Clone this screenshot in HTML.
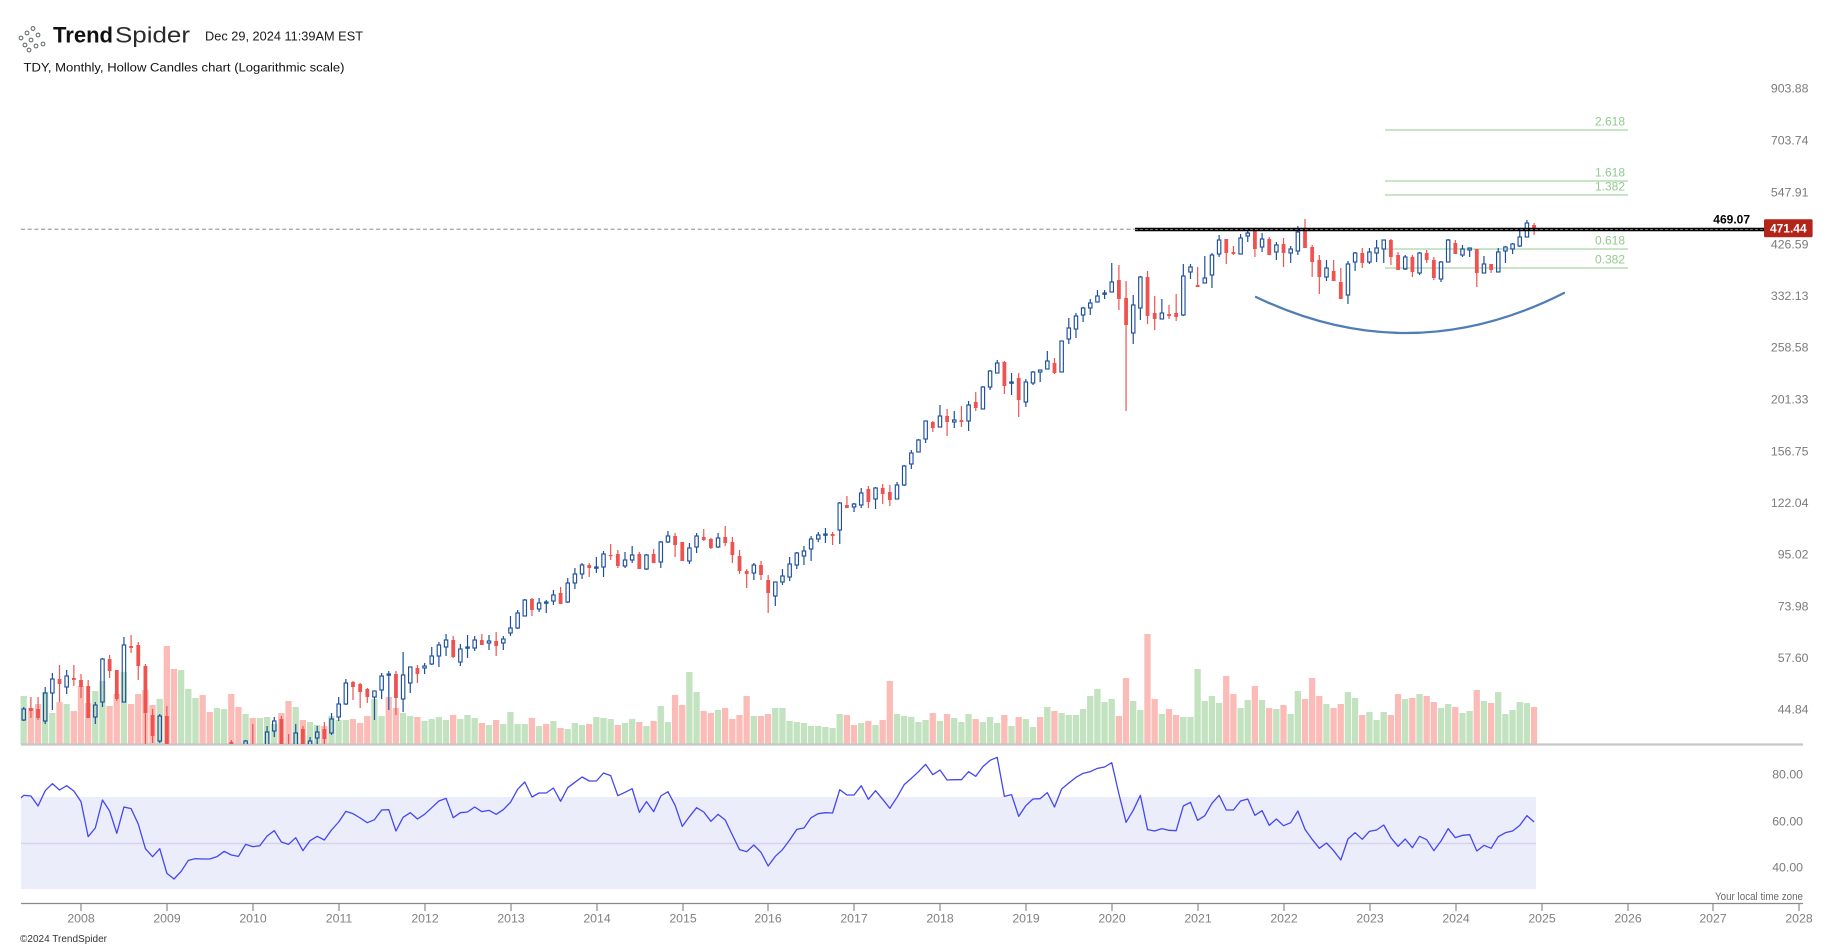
<!DOCTYPE html>
<html><head><meta charset="utf-8">
<style>
html,body{margin:0;padding:0;background:#fff;}
svg{display:block;}
text{font-family:"Liberation Sans",Arial,sans-serif;}
</style></head>
<body>
<svg id="c" width="1834" height="949" viewBox="0 0 1834 949" xmlns="http://www.w3.org/2000/svg">
<rect width="1834" height="949" fill="#fff"/>
<defs><clipPath id="pc"><rect x="0" y="0" width="1834" height="744"/></clipPath></defs>

<!-- header -->
<g fill="none" stroke="#5b6666" stroke-width="1">
<circle cx="21" cy="38" r="1.9"/><circle cx="27" cy="33" r="1.9"/><circle cx="33" cy="28.5" r="1.9"/>
<circle cx="25" cy="45" r="1.9"/><circle cx="31" cy="40" r="1.9"/><circle cx="38" cy="35" r="1.9"/>
<circle cx="36" cy="46" r="1.9"/><circle cx="43" cy="44" r="1.9"/><circle cx="29" cy="50" r="1.9"/>
</g>
<text x="53" y="42.5" font-size="22" font-weight="bold" fill="#111" textLength="60" lengthAdjust="spacingAndGlyphs">Trend</text>
<text x="115" y="42.5" font-size="22" fill="#2a2a2a" textLength="75" lengthAdjust="spacingAndGlyphs">Spider</text>
<text x="205" y="40.5" font-size="12.5" fill="#1a1a1a" textLength="158" lengthAdjust="spacingAndGlyphs">Dec 29, 2024 11:39AM EST</text>
<text x="23.5" y="71.5" font-size="12.3" fill="#111" textLength="321" lengthAdjust="spacingAndGlyphs">TDY, Monthly, Hollow Candles chart (Logarithmic scale)</text>

<!-- RSI band -->
<rect x="21" y="797" width="1515" height="92" fill="#ebedfb"/>
<line x1="21" y1="843.5" x2="1536" y2="843.5" stroke="#d6d2ef" stroke-width="1.6"/>

<g id="vol"></g>
<line x1="21" y1="744.5" x2="1803" y2="744.5" stroke="#c6c6c6" stroke-width="2.2"/>

<!-- last price dashed line -->
<line x1="21" y1="229.3" x2="1764" y2="229.3" stroke="#aaaaaa" stroke-width="1.3" stroke-dasharray="4,2.7"/>

<!-- fib lines -->
<g stroke="#a8d5a4" stroke-width="1.2">
<line x1="1385" y1="130" x2="1628" y2="130"/>
<line x1="1385" y1="181" x2="1628" y2="181"/>
<line x1="1385" y1="195" x2="1628" y2="195"/>
<line x1="1385" y1="249" x2="1628" y2="249"/>
<line x1="1385" y1="268" x2="1628" y2="268"/>
</g>
<g fill="#93c98f" font-size="12" text-anchor="end">
<text x="1625" y="125.3">2.618</text>
<text x="1625" y="176.3">1.618</text>
<text x="1625" y="190.3">1.382</text>
<text x="1625" y="244.3">0.618</text>
<text x="1625" y="263.3">0.382</text>
</g>

<g id="cand" clip-path="url(#pc)"></g>

<!-- black line -->
<line x1="1135" y1="229.5" x2="1764" y2="229.5" stroke="#000" stroke-width="3.6"/>
<line x1="1135" y1="229.5" x2="1764" y2="229.5" stroke="#6a6a6a" stroke-width="1" stroke-dasharray="3,2"/>
<text x="1750" y="223.3" font-size="12" font-weight="bold" fill="#000" text-anchor="end">469.07</text>
<rect x="1764" y="219.3" width="48.6" height="18" rx="1.5" fill="#b3241a"/>
<text x="1788.3" y="232.6" font-size="12" font-weight="bold" fill="#fff" text-anchor="middle">471.44</text>

<!-- cup curve -->
<path d="M1256,297 Q1410,371 1564,293" fill="none" stroke="#4f7db5" stroke-width="2.3" stroke-linecap="round"/>

<!-- price axis labels -->
<g fill="#7b7b7b" font-size="12.3" text-anchor="end">
<text x="1808.5" y="92.3">903.88</text>
<text x="1808.5" y="144.3">703.74</text>
<text x="1808.5" y="196.3">547.91</text>
<text x="1808.5" y="248.3">426.59</text>
<text x="1808.5" y="299.8">332.13</text>
<text x="1808.5" y="351.3">258.58</text>
<text x="1808.5" y="403.3">201.33</text>
<text x="1808.5" y="455.3">156.75</text>
<text x="1808.5" y="506.8">122.04</text>
<text x="1808.5" y="558.3">95.02</text>
<text x="1808.5" y="610.3">73.98</text>
<text x="1808.5" y="661.8">57.60</text>
<text x="1808.5" y="713.3">44.84</text>
</g>
<g fill="#7b7b7b" font-size="12.3" text-anchor="end">
<text x="1803" y="778.3">80.00</text>
<text x="1803" y="825.3">60.00</text>
<text x="1803" y="871.3">40.00</text>
</g>

<polyline id="rsi" fill="none" stroke="#4547f0" stroke-width="1.3" stroke-linejoin="round" points=""/>

<!-- time axis -->
<line x1="21" y1="903.5" x2="1803" y2="903.5" stroke="#8a8a8a" stroke-width="1.2"/>
<g id="ticks" stroke="#8a8a8a" stroke-width="1.2"></g>
<g fill="#808080" font-size="12.3" text-anchor="middle">
<text x="81" y="922.5">2008</text>
<text x="167" y="922.5">2009</text>
<text x="253" y="922.5">2010</text>
<text x="339" y="922.5">2011</text>
<text x="425" y="922.5">2012</text>
<text x="511" y="922.5">2013</text>
<text x="597" y="922.5">2014</text>
<text x="683" y="922.5">2015</text>
<text x="768" y="922.5">2016</text>
<text x="854" y="922.5">2017</text>
<text x="940" y="922.5">2018</text>
<text x="1026" y="922.5">2019</text>
<text x="1112" y="922.5">2020</text>
<text x="1198" y="922.5">2021</text>
<text x="1284" y="922.5">2022</text>
<text x="1370" y="922.5">2023</text>
<text x="1456" y="922.5">2024</text>
<text x="1542" y="922.5">2025</text>
<text x="1628" y="922.5">2026</text>
<text x="1713" y="922.5">2027</text>
<text x="1799" y="922.5">2028</text>
</g>
<text x="1803" y="899.8" font-size="11" fill="#6a6a6a" text-anchor="end" textLength="88" lengthAdjust="spacingAndGlyphs">Your local time zone</text>
<text x="20" y="942" font-size="10.5" fill="#333" textLength="87" lengthAdjust="spacingAndGlyphs">©2024 TrendSpider</text>
</svg>
<script>
(function(){
const NS="http://www.w3.org/2000/svg";
function el(tag,a,p){const e=document.createElementNS(NS,tag);for(const k in a)e.setAttribute(k,a[k]);p.appendChild(e);return e;}
const X=i=>81+(i-8)*7.158;
// ticks
const tg=document.getElementById('ticks');
[81,167,253,339,425,511,597,683,768,854,940,1026,1112,1198,1284,1370,1456,1542,1628,1713,1799].forEach(x=>el('line',{x1:x,y1:903.5,x2:x,y2:911},tg));
// volume
const VT=[696,708,704,692,713,702,704,711,686,703,
691,681,706,694,672,704,694,690,705,699,
646,669,670,689,698,695,712,708,709,694,
707,714,718,718,717,724,713,701,707,720,
722,725,726,716,720,720,719,723,716,699,
716,697,708,713,716,717,721,719,717,720,
715,719,715,718,723,725,720,724,712,724,
724,718,726,724,721,728,729,723,725,724,
717,718,719,725,723,719,722,726,721,706,
722,695,705,672,692,711,713,710,708,719,
715,696,716,716,714,708,708,721,722,723,
726,726,727,728,714,715,725,723,721,725,
720,681,714,716,717,722,720,713,721,714,
718,722,714,719,722,717,723,715,726,717,
719,727,717,707,711,713,715,715,709,696,
689,702,699,716,678,701,710,634,699,714,
709,715,717,717,669,701,696,703,676,694,
708,700,686,700,708,709,705,714,691,699,
678,696,704,708,704,692,698,715,712,720,
712,715,694,699,698,694,696,702,708,704,
707,713,711,690,701,703,692,714,710,702,
703,707];
const VC="gppggpgppp"+"ggppgppppg"+"ppgggppggp"+"pgpgggppgp"+"ggpgggpppg"+"gppggpgggg"+"pgggpgpggg"+"gpgpgpgggp"+"gggpggpgpg"+"gppggppgpp"+"ppgppggggg"+"gggggppgpg"+"ppgggggpgp"+"gggpgggpgp"+"ggpgpggggg"+"gggppggppg"+"ppggggggpp"+"ggpgpgpggp"+"ppgppggpgg"+"gppgpgppgg"+"pggpgpgggg"+"gp";
const vg=document.getElementById('vol');
for(let i=0;i<VT.length;i++){
  const x=X(i);
  el('rect',{x:(x-3.2).toFixed(2),y:VT[i],width:6.3,height:(744-VT[i]),fill:VC[i]==='g'?'#c2e2c0':'#fbbcb8'},vg);
}
// candles [i, bodyTop, bodyBottom, wickTop, wickBottom, up]
const C=[
[0,709,720,707,721,1],[1,708,711,697,718,0],[2,709,718,697,720,0],[3,693,721,687,724,1],[4,679,693,673,710,1],
[5,679,684,665,702,0],[6,676,687,670,694,1],[7,678,680,665,686,0],[8,680,687,674,698,0],[9,686,718,680,718,0],
[10,705,717,702,724,1],[11,659,702,658,707,1],[12,659,671,655,678,0],[13,670,699,670,701,0],[14,645,702,637,702,1],
[15,646,648,635,653,0],[16,645,666,642,680,0],[17,666,713,664,746,0],[18,715,736,709,743,0],[19,716,741,714,743,1],
[20,716,746,706,746,0],[29,742,746,740,746,0],[31,741,746,740,746,1],[32,746,746,724,746,0],[34,732,746,726,746,1],
[35,721,731,717,737,1],[36,719,746,716,746,0],[37,746,746,734,746,0],[38,733,746,724,746,1],[39,729,746,726,746,0],
[40,741,746,737,746,1],[41,732,738,726,746,1],[42,729,739,722,746,0],[43,719,733,713,735,1],[44,704,717,697,721,1],
[45,683,704,679,705,1],[46,682,687,681,700,0],[47,684,692,683,708,0],[48,689,697,688,703,0],[49,691,697,691,720,1],
[50,676,690,673,699,1],[51,674,675,671,710,1],[52,674,698,671,715,0],[53,675,699,652,712,1],[54,667,683,667,693,1],
[55,668,674,665,683,0],[56,666,668,663,674,1],[57,656,664,647,665,1],[58,645,656,642,667,1],[59,640,647,634,656,1],
[60,640,657,636,658,0],[61,649,662,644,666,1],[62,647,648,635,658,1],[63,640,648,636,651,1],[64,640,645,634,645,0],
[65,641,643,635,650,1],[66,641,646,632,656,0],[67,639,643,636,650,1],[68,628,633,616,636,1],[69,613,628,610,629,1],
[70,600,616,599,616,1],[71,599,610,598,616,0],[72,603,609,598,612,1],[73,602,603,600,613,1],[74,595,601,590,605,1],
[75,593,604,587,604,0],[76,583,602,578,603,1],[77,574,583,568,589,1],[78,565,574,563,579,1],[79,565,568,563,577,0],
[80,567,568,557,573,1],[81,554,567,551,577,1],[82,555,556,544,560,0],[83,554,566,550,568,0],[84,560,566,552,568,1],
[85,555,560,546,563,1],[86,554,569,552,569,0],[87,555,569,554,570,1],[88,554,563,549,563,0],[89,542,562,541,568,1],
[90,536,542,531,543,1],[91,536,545,533,557,0],[92,542,561,542,561,0],[93,548,561,543,564,1],[94,536,547,533,553,1],
[95,537,540,529,541,0],[96,539,548,538,549,0],[97,538,547,533,548,1],[98,537,543,526,546,0],[99,542,555,537,563,0],
[100,556,571,550,574,0],[101,571,574,569,588,0],[102,565,573,563,580,1],[103,565,575,561,580,0],[104,580,593,575,613,0],
[105,582,596,582,606,1],[106,576,582,569,585,1],[107,564,577,557,581,1],[108,553,565,552,569,1],[109,551,556,546,565,1],
[110,539,549,536,561,1],[111,535,539,532,542,1],[112,534,535,528,543,1],[113,534,536,532,545,0],[114,503,530,502,544,1],
[115,505,508,496,508,0],[116,504,507,503,512,1],[117,493,505,488,508,1],[118,489,502,486,508,0],[119,488,499,487,509,1],
[120,488,494,484,504,0],[121,492,500,485,506,0],[122,485,499,482,499,1],[123,466,485,465,486,1],[124,453,464,450,469,1],
[125,440,452,439,452,1],[126,421,439,421,443,1],[127,422,428,421,432,0],[128,416,427,405,427,1],[129,416,422,409,436,0],
[130,420,422,411,428,1],[131,420,422,406,427,0],[132,405,421,401,431,1],[133,402,408,392,411,0],[134,387,409,386,409,1],
[135,371,387,370,390,1],[136,363,373,360,373,1],[137,362,386,361,394,0],[138,382,383,373,395,1],[139,378,400,373,417,0],
[140,382,402,379,407,1],[141,372,383,371,385,1],[142,370,372,370,382,1],[143,361,369,351,369,1],[144,363,373,358,374,0],
[145,341,372,341,372,1],[146,328,339,318,344,1],[147,316,329,313,338,1],[148,308,315,307,322,1],[149,303,308,299,315,1],
[150,296,302,290,302,1],[151,293,294,290,299,1],[152,282,292,263,292,1],[153,280,299,265,310,0],[154,298,325,281,411,0],
[155,305,333,295,344,1],[156,277,308,276,320,1],[157,277,316,271,324,0],[158,313,319,296,330,0],[159,313,319,299,319,1],
[160,314,316,305,319,0],[161,313,317,294,321,0],[162,276,315,264,316,1],[163,267,272,264,279,1],[164,285,287,267,287,0],
[165,278,283,256,283,1],[166,255,275,253,288,1],[167,240,254,235,257,1],[168,239,253,239,264,0],[169,252,254,246,255,0],
[170,238,254,234,254,1],[171,233,236,231,242,1],[172,231,249,229,257,0],[173,239,247,233,252,1],[174,239,255,237,255,0],
[175,245,252,242,260,1],[176,244,253,238,267,0],[177,249,253,246,263,1],[178,232,251,226,255,1],[179,229,248,219,248,0],
[180,247,262,245,277,0],[181,260,277,255,294,0],[182,268,277,260,281,1],[183,271,281,260,281,0],[184,282,299,268,299,0],
[185,264,295,261,304,1],[186,253,262,252,271,1],[187,253,263,248,268,0],[188,252,262,248,264,1],[189,248,253,240,262,1],
[190,240,249,240,263,1],[191,240,257,239,265,0],[192,255,270,252,270,0],[193,257,269,255,270,1],[194,257,272,255,277,0],
[195,253,273,252,275,1],[196,253,260,250,263,0],[197,260,278,257,280,0],[198,262,279,261,282,1],[199,240,262,239,262,1],
[200,243,254,240,254,0],[201,249,255,245,257,1],[202,248,250,248,257,1],[203,249,273,249,287,0],[204,264,273,256,273,1],
[205,264,270,264,273,0],[206,252,272,248,272,1],[207,247,251,246,263,1],[208,244,249,243,254,1],[209,237,246,231,247,1],
[210,223,237,220,237,1],[211,225,228,223,235,0]];
const cg=document.getElementById('cand');
const BLUE="#1d4f9e",RED="#ef5350";
for(const [i,bt,bb,wt,wb,u] of C){
  const x=X(i);
  const col=u?BLUE:RED;
  if(wt<bt) el('line',{x1:x,y1:wt,x2:x,y2:bt,stroke:col,'stroke-width':1.2},cg);
  if(wb>bb) el('line',{x1:x,y1:bb,x2:x,y2:wb,stroke:col,'stroke-width':1.2},cg);
  const h=Math.max(bb-bt,1.2);
  if(u){
    el('rect',{x:(x-1.7).toFixed(2),y:bt,width:3.4,height:h,fill:'none',stroke:col,'stroke-width':1.15},cg);
  } else {
    el('rect',{x:(x-1.9).toFixed(2),y:bt,width:3.8,height:h,fill:col},cg);
  }
}
// RSI
const A=[526,528,558,512,491,510,497,513,545,650,624,540,573,640,561,566,612,686,710,686,760,777,754,721,716,717,717,710,694,705,709,673,680,677,648,632,666,673,653,692,662,649,660,630,606,574,581,594,608,599,570,569,633,592,578,597,583,563,543,535,593,578,576,561,575,571,583,569,547,508];
const B=[486,531,519,519,504,544,503,487,471,483,483,459,467,527,517,506,577,545,575,528,515,556,619,590,563,576,604,583,600,645,689,695,675,697,738,709,689,660,628,624,593,581,578,579,509,525,525,497,538,512,538,565,532,494,475,455,433,464,450,480,479,479,455,469,440,421,412,529,524,589,557,537];
const Cc=[536,518,561,507,489,472,460,455,445,441,428,522,607,571,526,629,633,626,631,632,558,547,601,587,550,526,570,570,543,537,586,572,616,597,617,608];
const D=[633,688,718,745,729,752,780,717,698,718,694,690,675,713,739,717,743,709,719,752,723,686,713,706,704,753,736,745,710,698,693,676,647,666];
const R=[];
A.forEach(v=>R.push(620+v/3));B.forEach(v=>R.push(620+v/3));Cc.forEach(v=>R.push(620+v/3));D.forEach(v=>R.push(600+v/3));
let pts="21,797.7";
R.forEach((y,i)=>{pts+=" "+X(i).toFixed(2)+","+y.toFixed(2);});
document.getElementById('rsi').setAttribute('points',pts);
})();
</script>
</body></html>
